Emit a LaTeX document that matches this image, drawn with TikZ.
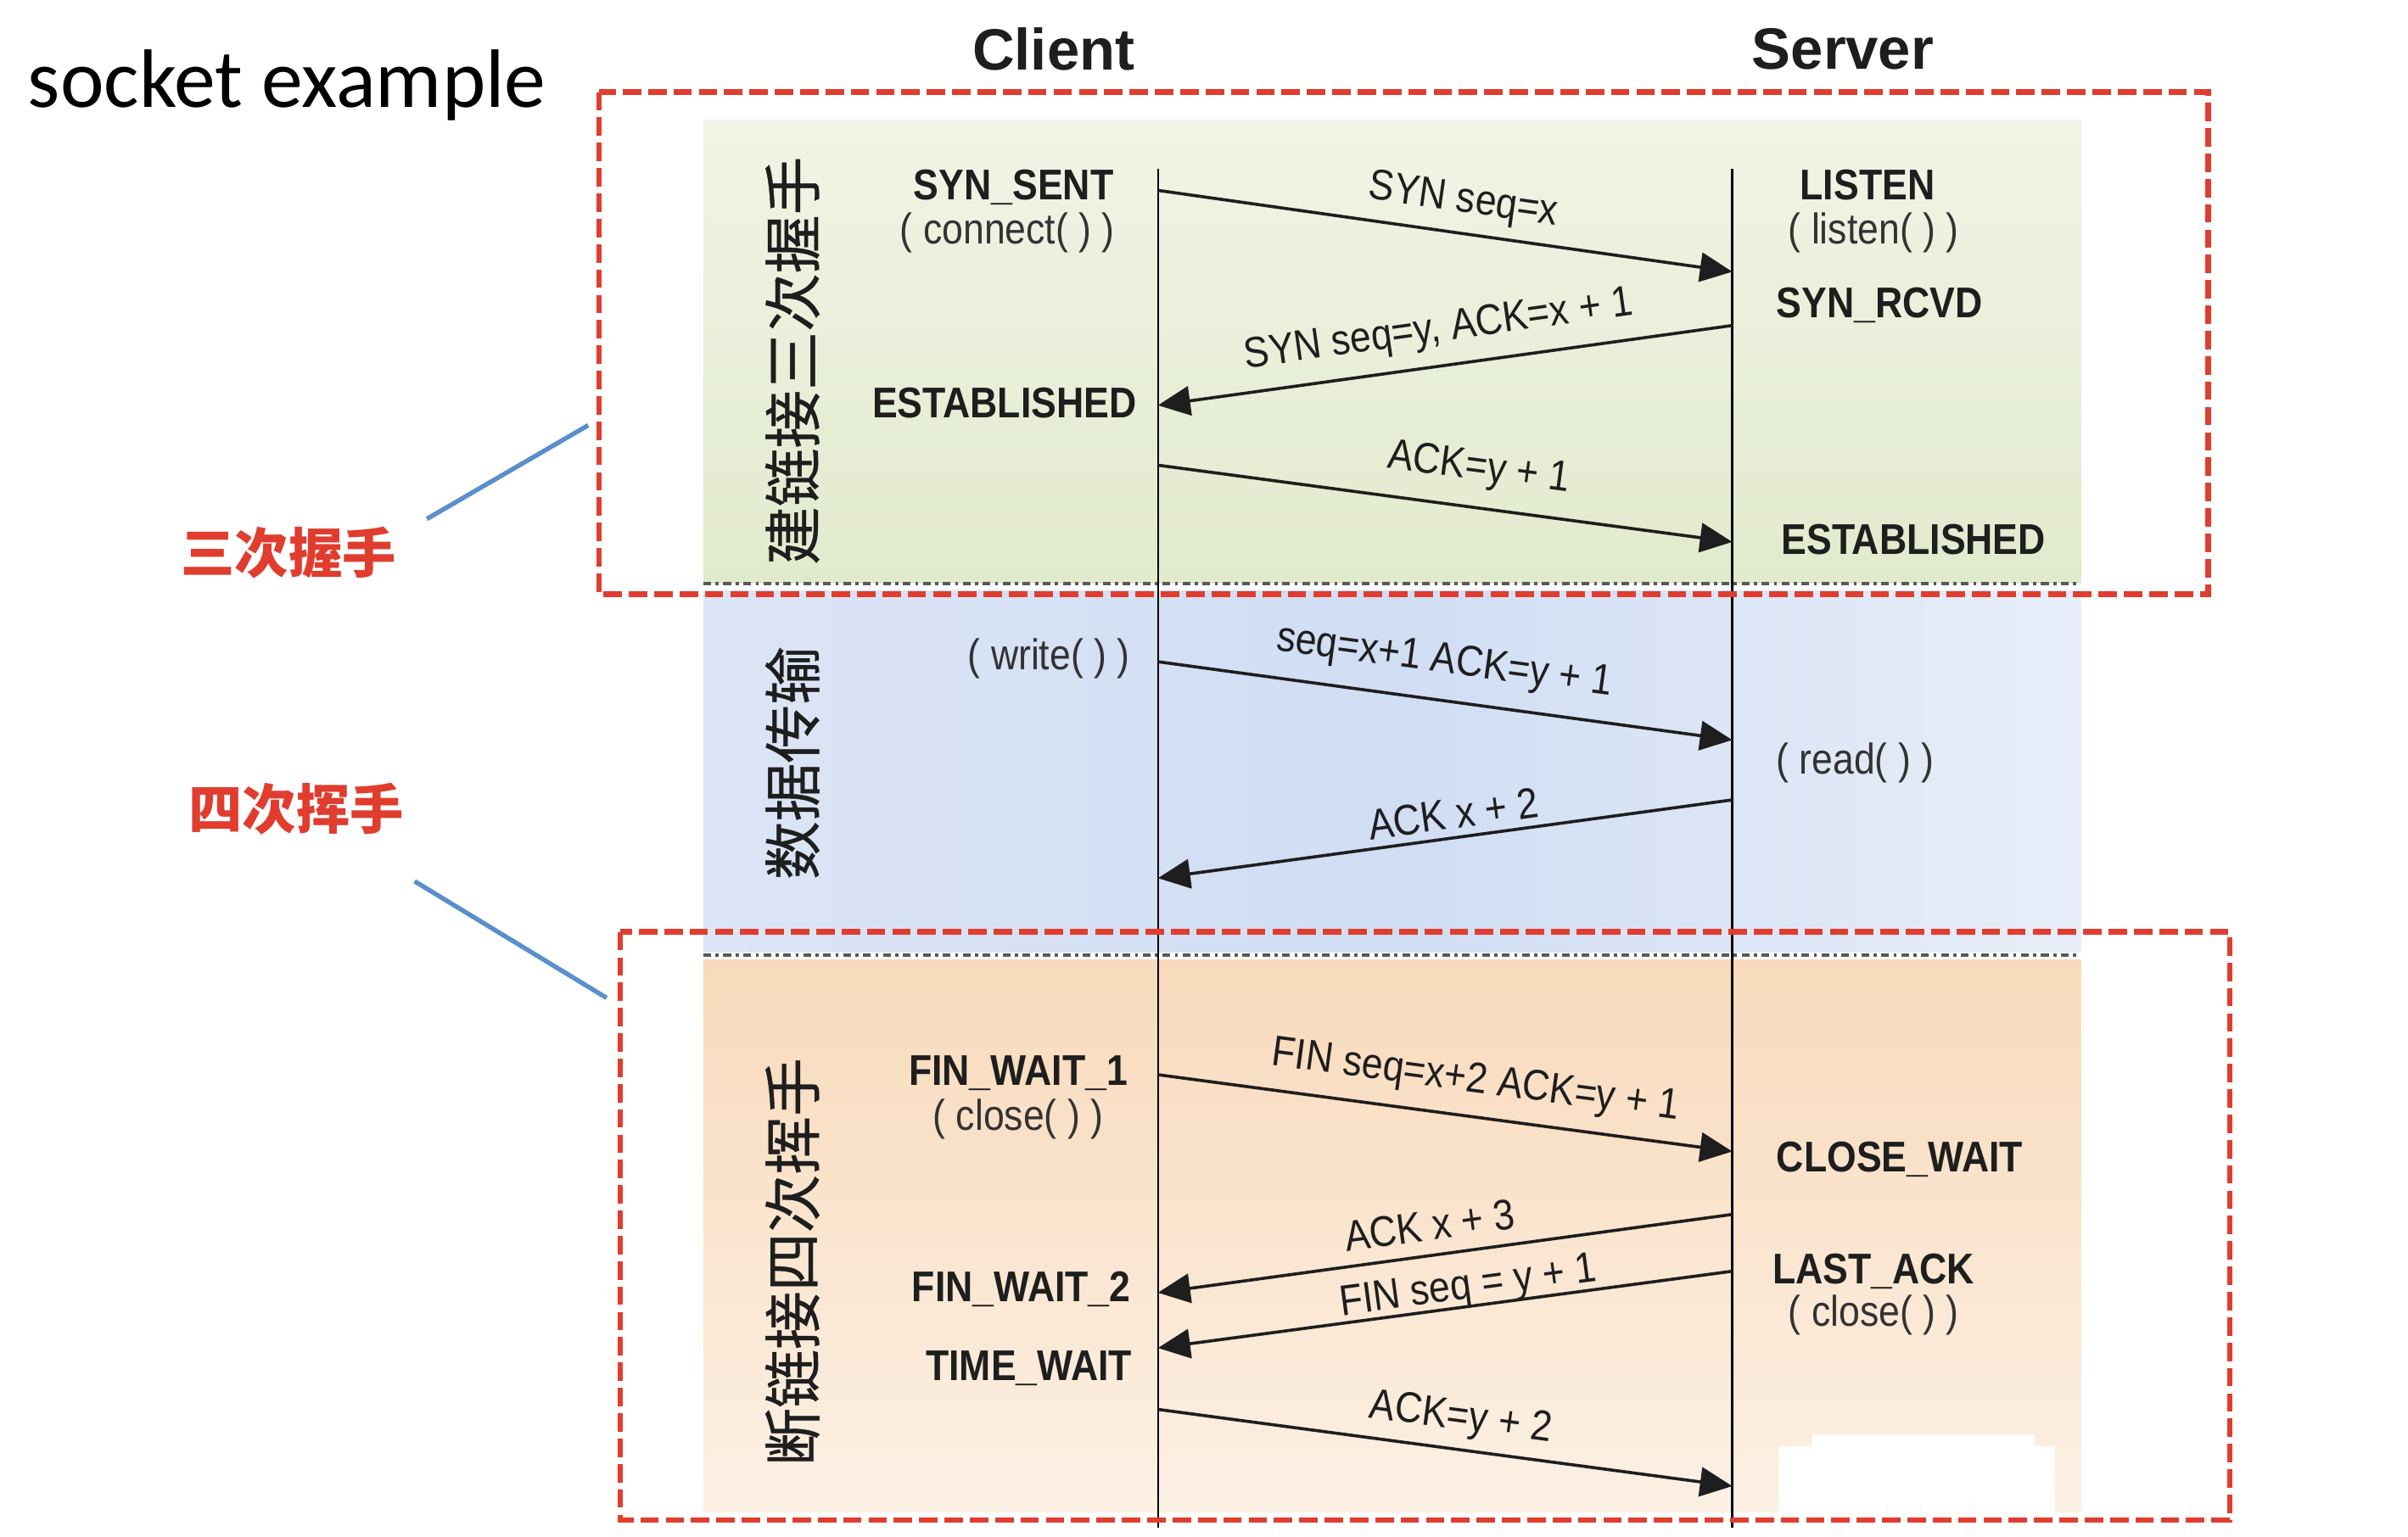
\documentclass[tikz,border=0pt]{standalone}
\usepackage{fontspec}
\usepackage{graphicx}
\setmainfont{Liberation Sans}
\newfontfamily\narrowfont[FakeStretch=0.88]{Liberation Sans}
\newfontfamily\cjkfont{Noto Sans CJK SC}
\newfontfamily\cjkvfont[FakeBold=0.6]{Noto Sans CJK SC}
\newfontfamily\titlefont{Carlito}
\newcommand{\nar}[1]{\scalebox{0.88}[1]{#1}}
\usetikzlibrary{arrows.meta}
\definecolor{redd}{HTML}{E03D2F}
\definecolor{blueline}{HTML}{5B8FCC}
\definecolor{txt}{HTML}{1E1E1E}
\definecolor{callc}{HTML}{333333}
\definecolor{greenT}{HTML}{F0F4E6}
\definecolor{greenB}{HTML}{E2EACD}
\definecolor{blueL}{HTML}{DCE5F5}
\definecolor{blueM}{HTML}{D0DDF3}
\definecolor{blueR}{HTML}{E8EEF9}
\definecolor{orT}{HTML}{F8DABB}
\definecolor{orB}{HTML}{FCF0E4}
\begin{document}
\begin{tikzpicture}[x=1pt,y=-1pt,
  state/.style={font=\narrowfont\bfseries\fontsize{28}{30}\selectfont, text=txt, inner sep=0pt, text height=20pt, text depth=0pt},
  callnode/.style={font=\narrowfont\fontsize{28}{30}\selectfont, text=callc, inner sep=0pt, text height=20pt, text depth=6pt},
  msg/.style={draw=txt, line width=2pt, -{Triangle[length=21pt,width=19pt]}},
  lab/.style={font=\fontsize{28}{30}\selectfont, text=txt, sloped, above=#1, inner sep=0pt, text height=20pt, text depth=6pt},
  lifeline/.style={draw=black, line width=1.3pt},
  reddash/.style={draw=redd, line width=3.6pt, dash pattern=on 12pt off 4.5pt},
  sepline/.style={draw=black!65, line width=2pt, dash pattern=on 5pt off 3pt on 2pt off 3pt},
  vlabel/.style={font=\cjkvfont\fontsize{38}{40}\selectfont, text=txt, rotate=90, inner sep=0pt},
  redlabel/.style={font=\cjkfont\bfseries\fontsize{35}{37}\selectfont, text=redd, inner sep=0pt},
  hdr/.style={font=\bfseries\fontsize{38}{40}\selectfont, text=txt, inner sep=0pt},
  pointer/.style={draw=blueline, line width=3pt}
]
\useasboundingbox (0,0) rectangle (1568,1001);
\fill[white] (0,0) rectangle (1568,1001);

% backgrounds
\shade[top color=greenT, bottom color=greenB] (458,78) rectangle (1355,380);
\shade[left color=blueL, right color=blueR, middle color=blueM] (458,385) rectangle (1355,620);
\shade[top color=orT, bottom color=orB] (458,625) rectangle (1355,985);
\fill[white] (1158,942) rectangle (1338,985);
\fill[white] (1180,934) rectangle (1325,945);

% separators
\draw[sepline] (458,380) -- (1352,380);
\draw[sepline] (458,622) -- (1352,622);

% titles
\node[font=\titlefont\fontsize{54}{56}\selectfont, anchor=base west, inner sep=0pt] (title) at (18,70) {socket example};
\node[hdr] (client) at (686,32) {Client};
\node[hdr] (server) at (1200,32) {Server};

% lifelines
\coordinate (ctop) at (754,110);
\coordinate (cbot) at (754,995);
\coordinate (stop) at (1128,110);
\coordinate (sbot) at (1128,995);
\draw[lifeline] (ctop) -- (cbot);
\draw[lifeline] (stop) -- (sbot);

% vertical phase labels
\node[vlabel] (ph1) at (516,235) {建链接三次握手};
\node[vlabel] (ph2) at (516,497) {数据传输};
\node[vlabel] (ph3) at (516,822) {断链接四次挥手};

% states
\node[state] (synsent) at (660,120) {SYN\_SENT};
\node[callnode] (connect) at (656,152) {( connect( ) )};
\node[state] (listen) at (1216,120) {LISTEN};
\node[callnode] (listenc) at (1220,152) {( listen( ) )};
\node[state] (synrcvd) at (1224,197) {SYN\_RCVD};
\node[state] (estc) at (654,262) {ESTABLISHED};
\node[state] (ests) at (1246,351) {ESTABLISHED};
\node[callnode] (write) at (683,429) {( write( ) )};
\node[callnode] (read) at (1208,497) {( read( ) )};
\node[state] (fw1) at (663,697) {FIN\_WAIT\_1};
\node[callnode] (closec) at (663,729) {( close( ) )};
\node[state] (closewait) at (1237,753) {CLOSE\_WAIT};
\node[state] (lastack) at (1220,826) {LAST\_ACK};
\node[callnode] (closes) at (1220,857) {( close( ) )};
\node[state] (fw2) at (665,838) {FIN\_WAIT\_2};
\node[state] (tw) at (670,889) {TIME\_WAIT};

% message endpoints
\coordinate (c1) at (754,124); \coordinate (s1) at (1128,177);
\coordinate (s2) at (1128,212); \coordinate (c2) at (754,264);
\coordinate (c3) at (754,303); \coordinate (s3) at (1128,353);
\coordinate (c4) at (754,431); \coordinate (s4) at (1128,482);
\coordinate (s5) at (1128,521); \coordinate (c5) at (754,572);
\coordinate (c6) at (754,700); \coordinate (s6) at (1128,750);
\coordinate (s7) at (1128,791); \coordinate (c7) at (754,842);
\coordinate (s8) at (1128,828); \coordinate (c8) at (754,878);
\coordinate (c9) at (754,918); \coordinate (s9) at (1128,968);

\draw[msg] (c1) -- node[lab=7pt, pos=0.524] {\nar{SYN seq=x}} (s1);
\draw[msg] (s2) -- node[lab=9pt, pos=0.503] {\nar{SYN seq=y, ACK=x + 1}} (c2);
\draw[msg] (c3) -- node[lab=11pt, pos=0.55] {\nar{ACK=y + 1}} (s3);
\draw[msg] (c4) -- node[lab=11pt, pos=0.49] {\nar{seq=x+1 ACK=y + 1}} (s4);
\draw[msg] (s5) -- node[lab=-1pt, pos=0.48] {\nar{ACK x + 2}} (c5);
\draw[msg] (c6) -- node[lab=9pt, pos=0.545] {\nar{FIN seq=x+2 ACK=y + 1}} (s6);
\draw[msg] (s7) -- node[lab=3pt, pos=0.52] {\nar{ACK x + 3}} (c7);
\draw[msg] (s8) -- node[lab=-2pt, pos=0.455] {\nar{FIN seq = y + 1}} (c8);
\draw[msg] (c9) -- node[lab=6pt, pos=0.52] {\nar{ACK=y + 2}} (s9);

% red dashed boxes
\draw[reddash] (390,60) rectangle (1438,387);
\draw[reddash] (404,607) rectangle (1452,990);

% red labels and pointers
\node[redlabel] (three) at (188,360) {三次握手};
\node[redlabel] (four) at (193,527) {四次挥手};
\coordinate (p1a) at (278,338); \coordinate (p1b) at (383,277);
\coordinate (p2a) at (270,574); \coordinate (p2b) at (395,650);
\draw[pointer] (p1a) -- (p1b);
\draw[pointer] (p2a) -- (p2b);
\end{tikzpicture}
\end{document}
